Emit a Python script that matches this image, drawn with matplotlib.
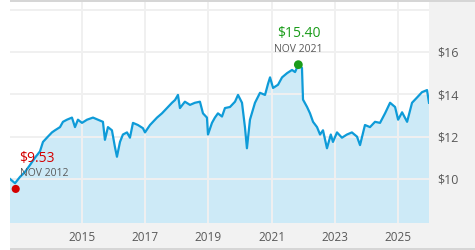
import matplotlib
matplotlib.use("Agg")
import matplotlib.pyplot as plt
from matplotlib.patches import Rectangle
import pandas as pd

# Price history
dates = [
    "2012-09-21", "2012-11-18", "2013-01-15", "2013-03-13", "2013-05-10",
    "2013-07-06", "2013-09-02", "2013-10-07", "2013-12-03", "2014-01-19",
    "2014-02-23", "2014-04-22", "2014-05-26", "2014-07-11", "2014-09-07",
    "2014-10-12", "2014-11-15", "2015-01-01", "2015-02-28", "2015-05-08",
    "2015-07-04", "2015-08-31", "2015-09-23", "2015-10-28", "2015-12-13",
    "2016-01-17", "2016-02-09", "2016-03-15", "2016-04-18", "2016-06-04",
    "2016-07-08", "2016-08-12", "2016-10-08", "2016-12-05", "2016-12-29",
    "2017-02-25", "2017-05-17", "2017-07-13", "2017-09-09", "2017-11-06",
    "2017-12-11", "2018-01-14", "2018-02-06", "2018-04-04", "2018-06-02",
    "2018-07-29", "2018-09-25", "2018-10-30", "2018-12-15", "2018-12-27",
    "2019-02-11", "2019-03-17", "2019-04-21", "2019-06-07", "2019-07-11",
    "2019-09-07", "2019-11-04", "2019-12-09", "2020-01-24", "2020-02-27",
    "2020-03-21", "2020-04-25", "2020-06-22", "2020-08-19", "2020-10-16",
    "2020-11-20", "2020-12-13", "2021-01-17", "2021-03-15", "2021-05-01",
    "2021-06-28", "2021-08-24", "2021-09-28", "2021-11-05", "2021-12-17",
    "2021-12-29", "2022-02-14", "2022-03-20", "2022-04-24", "2022-06-09",
    "2022-07-14", "2022-08-17", "2022-10-02", "2022-11-15", "2022-12-10",
    "2023-01-26", "2023-03-24", "2023-05-21", "2023-07-17", "2023-09-14",
    "2023-10-19", "2023-12-15", "2024-02-11", "2024-04-09", "2024-06-06",
    "2024-08-03", "2024-09-30", "2024-11-27", "2025-01-01", "2025-02-16",
    "2025-04-15", "2025-06-11", "2025-08-08", "2025-10-04", "2025-12-01",
    "2025-12-24",
]
prices = [
    10.00, 9.80, 10.10, 10.33, 10.66,
    11.00, 11.30, 11.75, 12.00, 12.20,
    12.30, 12.45, 12.70, 12.80, 12.90,
    12.45, 12.80, 12.65, 12.80, 12.90,
    12.80, 12.70, 11.85, 12.45, 12.30,
    11.50, 11.05, 11.75, 12.10, 12.20,
    11.95, 12.65, 12.55, 12.40, 12.20,
    12.55, 12.90, 13.10, 13.35, 13.60,
    13.73, 13.97, 13.35, 13.65, 13.50,
    13.60, 13.65, 13.10, 12.90, 12.10,
    12.65, 12.90, 13.10, 12.95, 13.35,
    13.40, 13.65, 13.97, 13.60, 12.45,
    11.45, 12.80, 13.60, 14.07, 13.97,
    14.50, 14.80, 14.30, 14.45, 14.80,
    15.00, 15.15, 15.05, 15.40, 15.25,
    13.75, 13.40, 13.10, 12.70, 12.45,
    12.10, 12.30, 11.45, 12.10, 11.75,
    12.20, 11.95, 12.10, 12.20, 12.00,
    11.60, 12.55, 12.45, 12.70, 12.65,
    13.10, 13.60, 13.40, 12.80, 13.15,
    12.70, 13.60, 13.85, 14.10, 14.20,
    13.60,
]

start_date, start_price, start_label = "2012-11-26", 9.53, "NOV 2012"
peak_date, peak_price, peak_label = "2021-11-05", 15.40, "NOV 2021"

y_ticks = [10, 12, 14, 16]
grid_top = 18
x_years = [2015, 2017, 2019, 2021, 2023, 2025]

LINE = "#0e9bd8"
FILL = "#cdeaf7"
GRID = "#f0f0f0"
PANEL = "#f2f2f2"
EDGE = "#d6d6d6"
TEXT = "#595959"

plt.rcParams["font.family"] = ["Open Sans", "DejaVu Sans"]

W, H = 475, 250
fig = plt.figure(figsize=(W / 100, H / 100), dpi=100, facecolor="white")


def _band(x0, y0, w, h, color):
    """Figure-level background rectangle, given in pixels from bottom-left."""
    fig.patches.append(Rectangle((x0 / W, y0 / H), w / W, h / H,
                                 transform=fig.transFigure, facecolor=color,
                                 edgecolor="none", zorder=-5))


_band(429, 2, 46, 246, PANEL)   # right label panel
_band(10, 2, 465, 25, PANEL)    # bottom label strip
_band(10, 248, 465, 2, EDGE)    # top rule
_band(10, 0, 465, 2, EDGE)      # bottom rule

ax = fig.add_axes([10 / W, 27 / H, 419 / W, 221 / H])
ax.set_facecolor("white")

x = pd.to_datetime(dates)
ax.fill_between(x, prices, 0, color=FILL, linewidth=0, zorder=1)
ax.plot(x, prices, color=LINE, linewidth=1.6, zorder=3,
        solid_joinstyle="round")

ax.set_xlim(pd.Timestamp("2012-09-21"), pd.Timestamp("2025-12-24"))
ax.set_ylim(7.92, 18.36)

ax.yaxis.tick_right()
ax.set_yticks(y_ticks)
ax.set_yticklabels([f"${v}" for v in y_ticks])
ax.set_xticks([pd.Timestamp(f"{y}-01-01") for y in x_years])
ax.set_xticklabels([str(y) for y in x_years])
ax.tick_params(axis="both", length=0, colors=TEXT, labelsize=8.5)
ax.tick_params(axis="y", pad=6, labelsize=9)
ax.tick_params(axis="x", pad=6)

# grid: include the $18 line at the top
for v in y_ticks + [grid_top]:
    ax.axhline(v, color=GRID, linewidth=1.4, zorder=2)
for yv in x_years:
    ax.axvline(pd.Timestamp(f"{yv}-01-01"), color=GRID, linewidth=1.4,
               zorder=2)
for s in ax.spines.values():
    s.set_visible(False)

# start marker
sd = pd.Timestamp(start_date)
ax.scatter([sd], [start_price], s=34, color="#d40000", zorder=5,
           edgecolors="none", clip_on=False)
ax.annotate(f"${start_price:.2f}", (sd, start_price), xytext=(3, 30),
            textcoords="offset pixels", ha="left", va="center",
            fontsize=10, color="#d40000", zorder=6)
ax.annotate(start_label, (sd, start_price), xytext=(4, 15),
            textcoords="offset pixels", ha="left", va="center",
            fontsize=7.5, color=TEXT, zorder=6)

# peak marker
pdt = pd.Timestamp(peak_date)
ax.scatter([pdt], [peak_price], s=40, color="#1a9c1a", zorder=5,
           edgecolors="none")
ax.annotate(f"${peak_price:.2f}", (pdt, peak_price), xytext=(1, 31),
            textcoords="offset pixels", ha="center", va="center",
            fontsize=10, color="#1a9c1a", zorder=6)
ax.annotate(peak_label, (pdt, peak_price), xytext=(0, 15),
            textcoords="offset pixels", ha="center", va="center",
            fontsize=7.5, color=TEXT, zorder=6)

fig.savefig("out.png", dpi=100, facecolor="white")
